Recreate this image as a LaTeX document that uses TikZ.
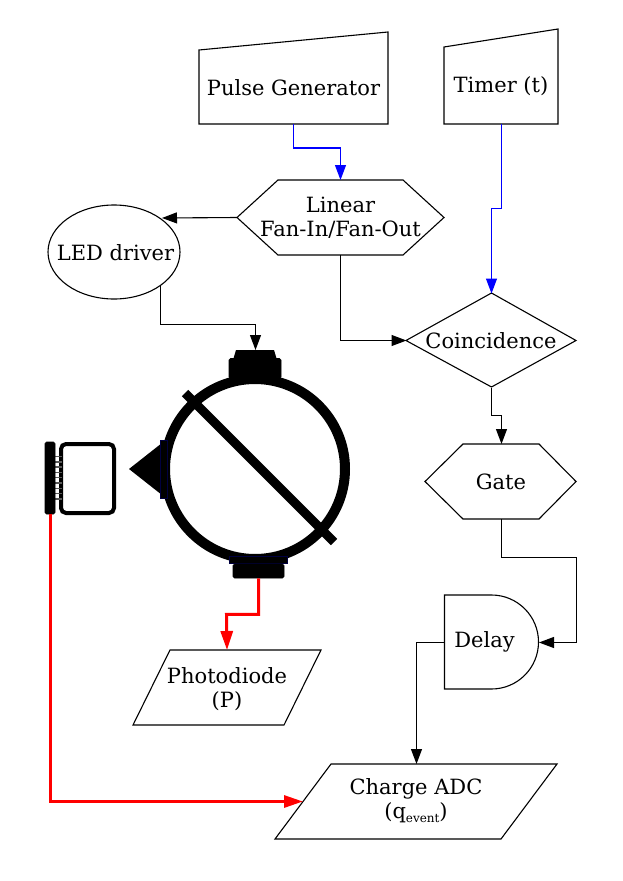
\documentclass[tikz,border=0pt]{standalone}
\usepackage{fontspec}
\setmainfont{DejaVu Serif}
\usetikzlibrary{arrows.meta,shapes.geometric,calc}
\tikzset{
  lbl/.style={inner sep=0pt,outer sep=0pt,align=center,font=\fontsize{21}{24}\selectfont},
  outline/.style={draw=black,line width=1.1pt,line join=miter},
  wire/.style={line width=1.1pt,-{Triangle[length=15pt,width=11pt]}},
  sigblue/.style={wire,draw=blue,{-{Triangle[length=15pt,width=11pt,fill=blue]}}},
  sigred/.style={line width=3pt,draw=red,-{Triangle[length=19pt,width=12pt,fill=red]}},
  solidpart/.style={fill=black,draw=black,line width=0.6pt,rounded corners=1.5pt},
  flange/.style={fill=black,draw=black!75!blue,line width=0.5pt},
}
\begin{document}
\begin{tikzpicture}[x=1pt,y=-1pt]
\useasboundingbox (0,0) rectangle (623,881);

% Instrument boxes, with text at each centre
\node[lbl,minimum width=189pt,minimum height=92pt] (pulse) at (293.5,78) {};
\node[lbl] at (293.5,87.5) {Pulse Generator};
\draw[outline] (199,50) -- (388,32) -- (388,124) -- (199,124) -- cycle;

\node[lbl,minimum width=114pt,minimum height=95pt] (timer) at (501.5,76.5) {};
\node[lbl] at (501,86.5) {Timer (t)};
\draw[outline] (444,47) -- (558,29) -- (558,124) -- (444,124) -- cycle;

\node[lbl,minimum width=207pt,minimum height=75pt] (fanout) at (340.5,217.5) {};
\node[lbl] at (340.5,218) {Linear\\Fan-In/Fan-Out};
\draw[outline] (237,217.5) -- (278,180) -- (403,180) -- (444,217.5) -- (403,255) -- (278,255) -- cycle;

\node[draw,line width=1.1pt,ellipse,inner sep=0pt,outer sep=0pt,minimum width=132pt,minimum height=94pt] (led) at (114,252) {};
\node[lbl] at (115.5,252.5) {LED driver};

\node[lbl,minimum width=170pt,minimum height=94pt] (coinc) at (491.5,340.5) {};
\node[lbl] at (491,340.5) {Coincidence};
\draw[outline] (406,340.5) -- (491.5,293) -- (576,340.5) -- (491.5,387) -- cycle;

\node[lbl,minimum width=151pt,minimum height=75pt] (gate) at (501.5,481.5) {};
\node[lbl] at (501,481.5) {Gate};
\draw[outline] (425,481.5) -- (463,444) -- (539,444) -- (576,481.5) -- (539,519) -- (463,519) -- cycle;

\node[lbl,minimum width=95pt,minimum height=94pt] (delay) at (491.5,642.5) {};
\node[lbl] at (484.5,642) {Delay};
\draw[outline] (444.5,595) -- (491.5,595) arc[start angle=90,end angle=-90,radius=47pt] -- (444.5,689) -- cycle;

\node[lbl,minimum width=188pt,minimum height=75pt] (photo) at (227,687.5) {};
\node[lbl] at (227,689.5) {Photodiode\\(P)};
\draw[outline] (170,650) -- (321,650) -- (284,725) -- (133,725) -- cycle;

\node[lbl,minimum width=282pt,minimum height=75pt] (adc) at (416.5,801.5) {};
\node[lbl] at (416,800.5) {Charge ADC\\(q{\raisebox{-4pt}{\fontsize{12}{12}\selectfont event}})};
\draw[outline] (331,764) -- (557,764) -- (501,839) -- (275,839) -- cycle;
\coordinate (adcentry) at (303,801.5);

% Integrating sphere with its ports and baffle
\draw[line width=10pt] (255,469) circle[radius=90pt];
\draw[line width=9pt] (185,393) -- (334,542);
\fill (236,350) -- (274,350) -- (277,360) -- (233,360) -- cycle;
\node[solidpart,inner sep=0pt,minimum width=52pt,minimum height=20pt] (captop) at (255,368.5) {};
\coordinate (capentry) at (255.5,350);
\node[flange,inner sep=0pt,minimum width=58pt,minimum height=7pt] at (258,559.5) {};
\node[solidpart,inner sep=0pt,minimum width=51pt,minimum height=14pt] (capbot) at (258.5,571) {};
\fill (129,469) -- (162,443) -- (162,495) -- cycle;
\node[flange,inner sep=0pt,minimum width=7pt,minimum height=58pt] at (163.5,469) {};

% Sensor block with its contact strip
\draw[line width=4pt,rounded corners=5pt] (61,444) rectangle (114,513);
\foreach \yy in {456.5,461.8,...,504}
  \draw[black!65,line width=1.4pt] (54,\yy) -- (62,\yy);
\node[solidpart,inner sep=0pt,minimum width=10pt,minimum height=72pt] (strip) at (50,478) {};

% Signal routing
\draw[sigblue] (pulse.south) -- ++(0,24) -| (fanout.north);
\draw[sigblue] (timer.south) |- (491.5,208.5) -- (coinc.north);
\draw[wire] (fanout.west) -- (162,218);
\draw[wire] (led.south east) |- ($(led.south east)+(0,39)$) -| (capentry);
\draw[wire] (fanout.south) |- (coinc.west);
\draw[wire] (coinc.south) |- ($(coinc.south)+(10,28)$) -- (gate.north);
\draw[wire] (gate.south) |- (576.5,557.5) |- (delay.east);
\draw[wire] (delay.west) -| (adc.north);
\draw[sigred] (capbot.south) |- ($(capbot.south)+(-32,36)$) -- (photo.north);
\draw[sigred] (strip.south) |- (adcentry);
\end{tikzpicture}
\end{document}
